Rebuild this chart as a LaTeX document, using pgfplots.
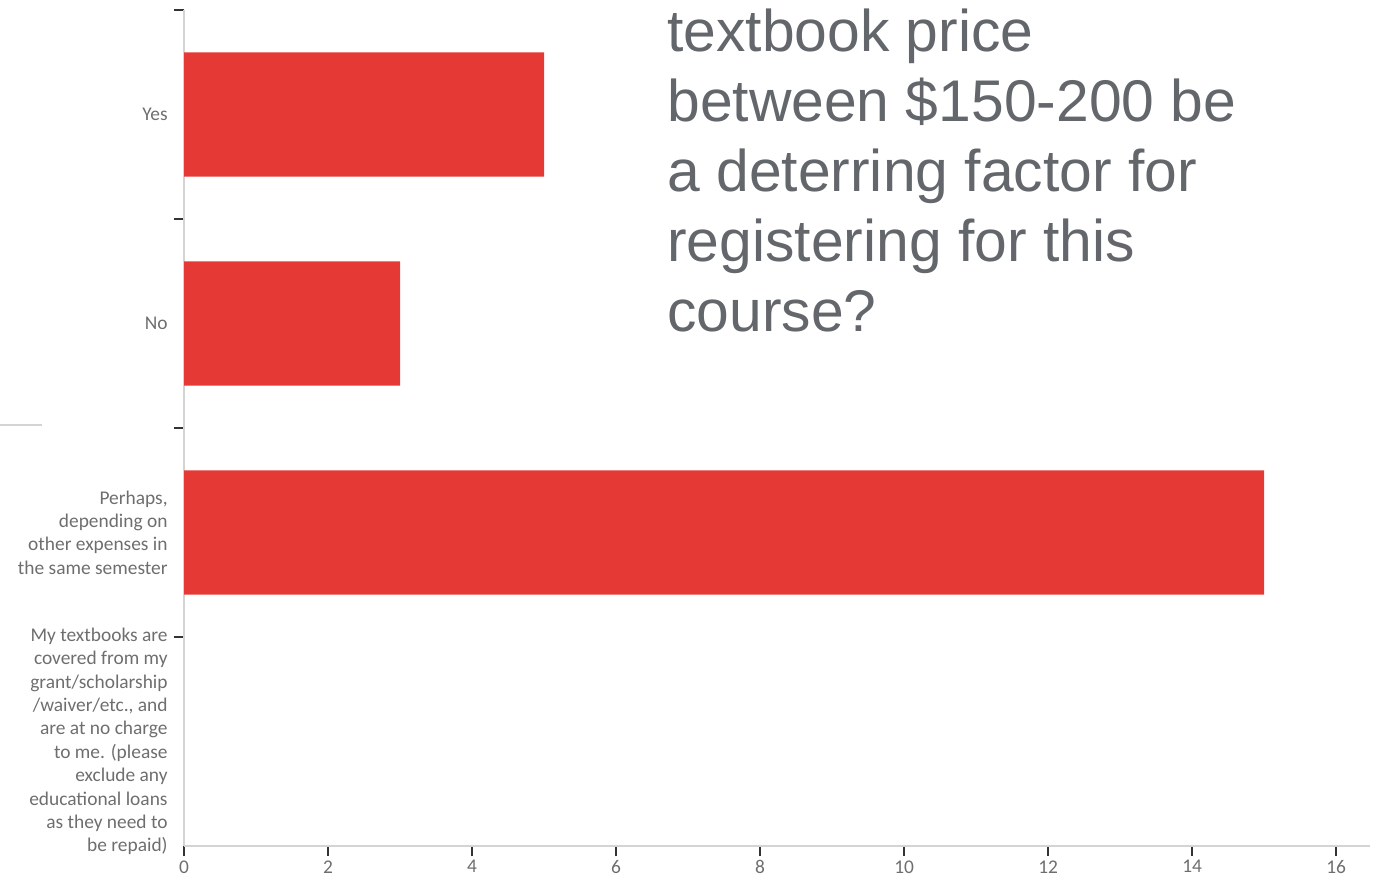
\documentclass[border=0pt]{standalone}
\usepackage{pgfplots}
\pgfplotsset{compat=1.18}
\usepackage{fontspec}
\setmainfont{Carlito}
\newfontfamily\titlefont{Liberation Sans}
\definecolor{barred}{HTML}{E53935}
\definecolor{labgray}{HTML}{6E6E6E}
\definecolor{titlegray}{HTML}{63666A}
\definecolor{axgray}{HTML}{D4D4D4}
\begin{document}
\begin{tikzpicture}
\useasboundingbox (0,0) rectangle (690.5pt,439.5pt);
\draw[axgray, line width=0.6pt] (0,227pt) -- (21pt,227pt);
\begin{axis}[
  scale only axis,
  width=593pt, height=418pt,
  at={(92pt,16.5pt)}, anchor=south west,
  xmin=0, xmax=16.47,
  ymin=-0.5, ymax=3.5,
  y dir=reverse,
  axis x line*=bottom, axis y line*=left,
  axis line style={axgray, line width=0.8pt},
  xtick={0,2,...,16},
  ytick={0,1,2,3},
  minor ytick={-0.5,0.5,1.5,2.5},
  tick align=outside,
  major tick length=5pt, minor tick length=5pt,
  major y tick style={draw=none},
  minor y tick style={black!80, line width=0.9pt},
  major x tick style={black!80, line width=0.7pt},
  yticklabels={{Yes},{No},{Perhaps,\\depending on\\other expenses in\\the same semester},{My textbooks are\\covered from my\\grant/scholarship\\/waiver/etc., and\\are at no charge\\to me. (please\\exclude any\\educational loans\\as they need to\\be repaid)}},
  yticklabel style={align=right, font=\fontsize{9.7}{11.7}\selectfont, text=labgray, inner sep=0pt, xshift=-3pt},
  xticklabel style={font=\fontsize{9.7}{11.7}\selectfont, text=labgray, inner sep=0pt, yshift=-2pt},
  /pgf/number format/assume math mode=true,
  xbar, bar width=0.595, 
  clip=false,
]
\addplot[fill=barred, draw=none] coordinates {(5,0) (3,1) (15,2)};
\end{axis}
\begin{scope}[every node/.style={anchor=base west, inner sep=0pt, text=titlegray, font=\titlefont\fontsize{29.4}{35}\selectfont}]
\node at (333.5pt,413.5pt) {textbook price};
\node at (333.5pt,378.5pt) {between \$150-200 be};
\node at (333.5pt,343.5pt) {a deterring factor for};
\node at (333.5pt,308.5pt) {registering for this};
\node at (333.5pt,273.5pt) {course?};
\end{scope}
\end{tikzpicture}
\end{document}
